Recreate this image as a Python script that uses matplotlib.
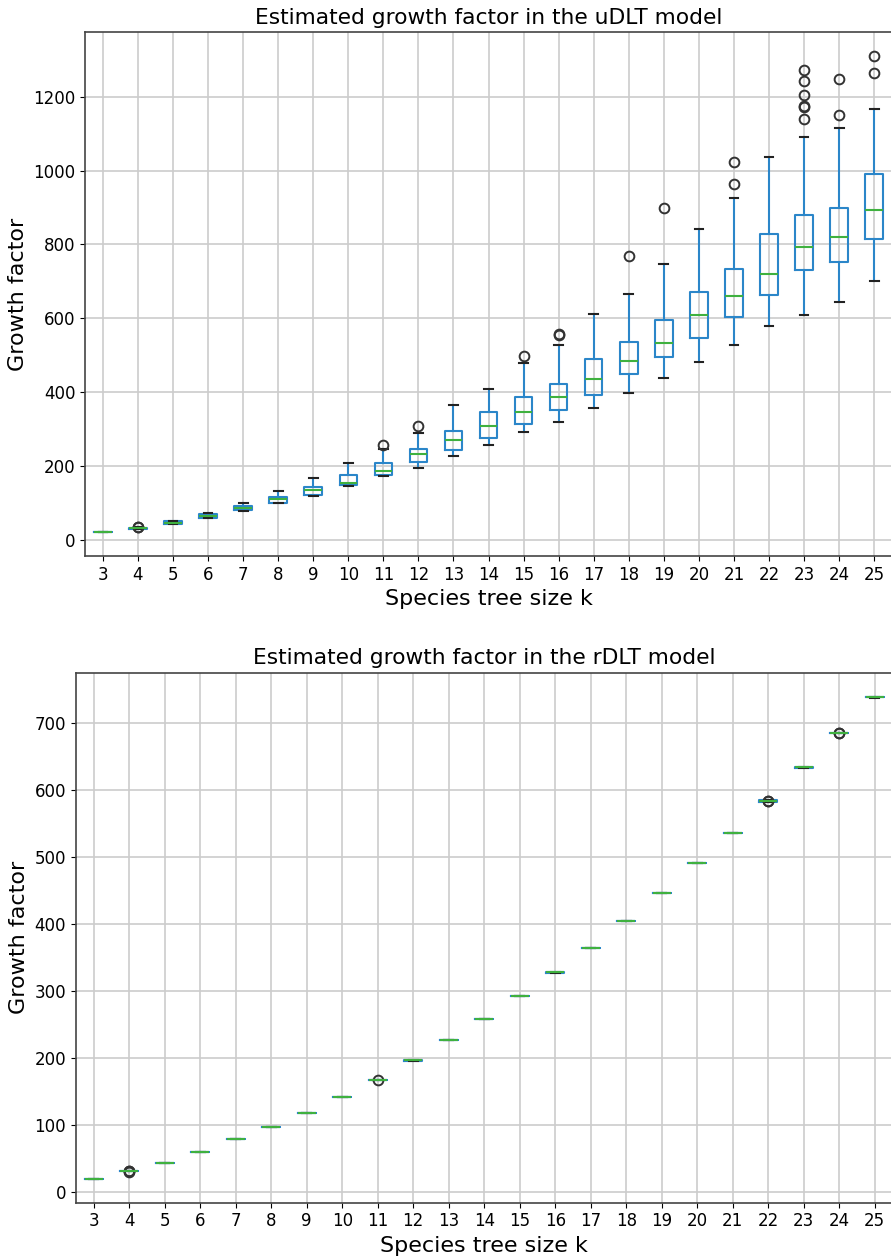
import matplotlib
matplotlib.use("Agg")
import matplotlib.pyplot as plt

# Species tree sizes
k_sizes = list(range(3, 26))

# uDLT model: box statistics
u_med = [20, 30.5, 46, 64, 85, 109, 133, 154, 187, 231, 269, 308, 346, 386, 436, 485, 534, 609, 659, 720, 792, 821, 893]
u_q1 = [20, 29, 42, 59, 79, 98, 121, 147, 175, 210, 242, 275, 314, 350, 393, 448, 494, 547, 603, 662, 730, 753, 815]
u_q3 = [20, 31.5, 50, 70, 90, 116, 142, 175, 207, 246, 295, 346, 386, 422, 490, 536, 596, 671, 734, 828, 880, 900, 991]
u_lo = [20, 28, 41, 58, 78, 98, 118, 145, 171, 193, 226, 255, 291, 318, 357, 396, 439, 481, 527, 579, 609, 645, 701]
u_hi = [20, 33, 51, 73, 99, 132, 167, 207, 246, 289, 365, 409, 478, 527, 612, 667, 747, 841, 926, 1037, 1092, 1115, 1168]
u_fliers = [[], [34, 35], [], [], [], [], [], [], [257], [308], [], [], [498],
            [554, 557], [], [770], [900], [], [965, 1024], [],
            [1141, 1172, 1176, 1204, 1243, 1272], [1151, 1249], [1265, 1311]]

# rDLT model: box statistics (almost no spread)
r_med = [20, 31, 43.5, 60, 78.5, 96.5, 118.5, 142.5, 167.5, 196.5, 227, 258, 292.5, 328, 365, 405, 447, 491, 536, 584, 634, 685.5, 739]
r_q1 = [20, 31, 43.5, 60, 78.5, 96.5, 118.5, 142.5, 167.5, 196, 227, 258, 292.5, 327.5, 365, 405, 447, 491, 536, 583.2, 633.6, 685, 738.6]
r_q3 = [20, 31, 43.5, 60, 78.5, 96.5, 118.5, 142.5, 167.5, 197, 227, 258, 292.5, 328.5, 365, 405, 447, 491, 536, 584.8, 634.4, 686, 739.4]
r_lo = [20, 31, 43.5, 60, 78.5, 96.5, 118.5, 142.5, 167.5, 195.6, 227, 258, 292.5, 327.2, 365, 405, 447, 491, 536, 583, 633.3, 685, 738.3]
r_hi = [20, 31, 43.5, 60, 78.5, 96.5, 118.5, 142.5, 167.5, 197.2, 227, 258, 292.5, 328.8, 365, 405, 447, 491, 536, 585, 634.6, 686, 739.6]
r_fliers = [[], [30.5, 31, 31.5], [], [], [], [], [], [], [168], [], [], [], [],
            [], [], [], [], [], [], [583.5, 584.5], [], [685, 686], []]


def make_stats(med, q1, q3, lo, hi, fliers):
    stats = []
    for i in range(len(med)):
        stats.append({"med": med[i], "q1": q1[i], "q3": q3[i],
                      "whislo": lo[i], "whishi": hi[i], "fliers": fliers[i]})
    return stats


def draw_panel(ax, stats, title):
    lw = 1.5
    ax.bxp(stats, positions=range(1, len(stats) + 1), widths=0.5,
           boxprops=dict(color="#2b86c9", linewidth=lw),
           whiskerprops=dict(color="#2b86c9", linewidth=lw),
           capprops=dict(color="#222222", linewidth=lw),
           medianprops=dict(color="#3fb13f", linewidth=lw),
           flierprops=dict(marker="o", markerfacecolor="none",
                           markeredgecolor="#333333", markersize=7,
                           markeredgewidth=1.4))
    ax.set_xticks(range(1, len(stats) + 1))
    ax.set_xticklabels([str(k) for k in k_sizes])
    ax.set_xlim(0.5, len(stats) + 0.5)
    ax.grid(True, color="#cccccc", linewidth=1.2)
    ax.set_axisbelow(True)
    ax.set_title(title, fontsize=15.7)
    ax.set_xlabel("Species tree size k", fontsize=16)
    ax.set_ylabel("Growth factor", fontsize=16)
    ax.tick_params(labelsize=12)
    for s in ax.spines.values():
        s.set_color("#444444")
        s.set_linewidth(1.2)


fig = plt.figure(figsize=(8.91, 12.59), dpi=100)
ax1 = fig.add_axes([0.0958, 0.5584, 0.905, 0.416])
ax2 = fig.add_axes([0.0852, 0.0447, 0.9165, 0.421])

draw_panel(ax1, make_stats(u_med, u_q1, u_q3, u_lo, u_hi, u_fliers),
           "Estimated growth factor in the uDLT model")
draw_panel(ax2, make_stats(r_med, r_q1, r_q3, r_lo, r_hi, r_fliers),
           "Estimated growth factor in the rDLT model")

ax1.margins(y=0.05)
ax2.margins(y=0.05)

fig.savefig("out.png", dpi=100)
